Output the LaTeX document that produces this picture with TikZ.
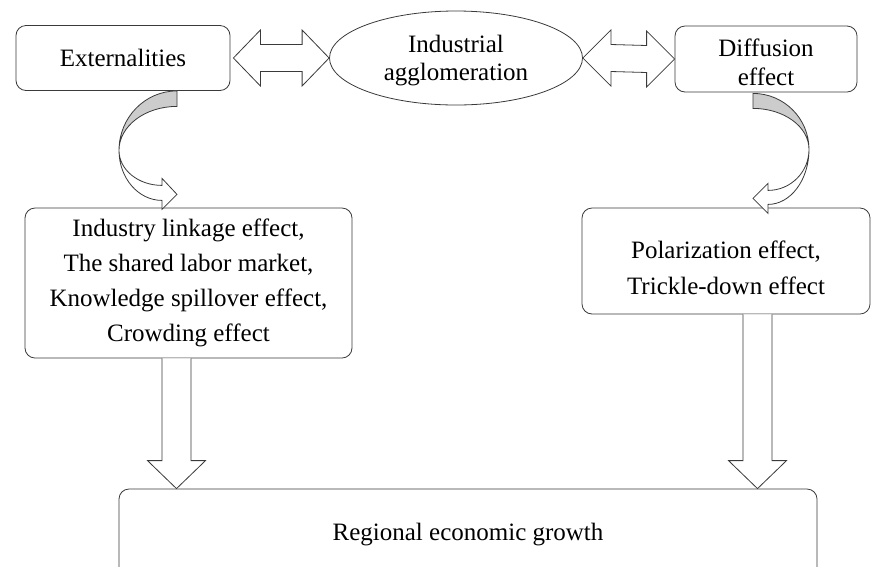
\documentclass[tikz,border=0pt]{standalone}
\usepackage{fontspec}
\setmainfont{Liberation Serif}
\usetikzlibrary{calc,shapes.geometric}
\definecolor{edge}{HTML}{3A3A3A}
\definecolor{fold}{HTML}{CCCCCC}

\begin{document}
\begin{tikzpicture}[x=1pt,y=-1pt,
  every node/.style={font=\fontsize{25}{35}\selectfont},
  box/.style={draw=edge,line width=0.8pt,rounded corners=10pt,align=center,inner sep=0pt},
  blk/.style={draw=edge,line width=0.8pt,fill=white,line join=miter}]
  \clip (0,0) rectangle (882,566);
  \fill[white] (0,0) rectangle (882,566);

  % top row
  \node[box,minimum width=214pt,minimum height=65pt] (ext) at (123,58) {Externalities};
  \node[draw=edge,line width=0.8pt,ellipse,minimum width=253pt,minimum height=94pt,inner sep=0pt] (agg) at (456,58) {};
  \node[align=center,font=\fontsize{25}{28}\selectfont] (aggtxt) at ($(agg)+(0,3)$) {Industrial\\agglomeration};
  \node[box,minimum width=182pt,minimum height=66pt] (dif) at (766,59) {};
  \node[align=center,font=\fontsize{25}{29}\selectfont] (diftxt) at ($(dif)+(0,3)$) {Diffusion\\effect};

  % middle and bottom
  \node[box,minimum width=327pt,minimum height=150pt] (lnk) at (188.5,283) {Industry linkage effect,\\The shared labor market,\\Knowledge spillover effect,\\Crowding effect};
  \node[box,minimum width=288pt,minimum height=106pt] (pol) at (726,261) {};
  \node[align=center,font=\fontsize{25}{36}\selectfont] (poltxt) at ($(pol)+(0,7)$) {Polarization effect,\\Trickle-down effect};
  \node[box,minimum width=698pt,minimum height=92pt] (reg) at (468,535) {Regional economic growth};

  % double arrows
  \draw[blk] ($(ext.east)+(3,0)$) -- ++(27,-28) -- ++(0,14.5) -- ($(agg.west)+(-27,-13.5)$) -- ++(0,-14.5) -- (agg.west) -- ++(-27,28) -- ++(0,-14.5) -- ($(ext.east)+(30,13.5)$) -- ++(0,14.5) -- cycle;
  \draw[blk] (agg.east) -- ++(28,-28) -- ++(0,14.5) -- ($(dif.west)+(-28,-13.5)$) -- ++(0,-14.5) -- (dif.west) -- ++(-28,28) -- ++(0,-14.5) -- ($(agg.east)+(28,13.5)$) -- ++(0,14.5) -- cycle;

  % curved arrows
  \coordinate (c1) at ($(ext.south)+(54,0)$);
  \filldraw[blk,fill=fold] (c1) arc[start angle=270,end angle=180,x radius=58,y radius=59.5] arc[start angle=180,end angle=270,x radius=58,y radius=44] -- cycle;
  \draw[blk] ($(c1)+(-58,59.5)$) arc[start angle=180,end angle=90,x radius=43,y radius=50] -- ++(0,9) -- ++(15,-15) -- ++(-15,-16) -- ++(0,7) arc[start angle=90,end angle=180,x radius=43,y radius=35] -- cycle;

  \coordinate (c2) at ($(dif.south)+(-13,1)$);
  \filldraw[blk,fill=fold] (c2) arc[start angle=270,end angle=360,x radius=56,y radius=56] arc[start angle=0,end angle=-90,x radius=56,y radius=41] -- cycle;
  \draw[blk] ($(c2)+(56,56)$) arc[start angle=0,end angle=90,x radius=41,y radius=55] -- ++(0,9) -- ++(-15,-15) -- ++(15,-15) -- ++(0,7) arc[start angle=90,end angle=0,x radius=41,y radius=41] -- cycle;

  % down arrows
  \coordinate (s1) at ($(lnk.south)+(-12,0)$);
  \coordinate (e1) at (s1 |- reg.north);
  \draw[blk] ($(s1)+(-14.5,0)$) -- ($(e1)+(-14.5,-28)$) -- ++(-14.5,0) -- (e1) -- ++(29,-28) -- ++(-14.5,0) -- ($(s1)+(14.5,0)$);
  \coordinate (s2) at ($(pol.south)+(31.5,0)$);
  \coordinate (e2) at (s2 |- reg.north);
  \draw[blk] ($(s2)+(-14.5,0)$) -- ($(e2)+(-14.5,-28)$) -- ++(-14.5,0) -- (e2) -- ++(29,-28) -- ++(-14.5,0) -- ($(s2)+(14.5,0)$);
\end{tikzpicture}
\end{document}
